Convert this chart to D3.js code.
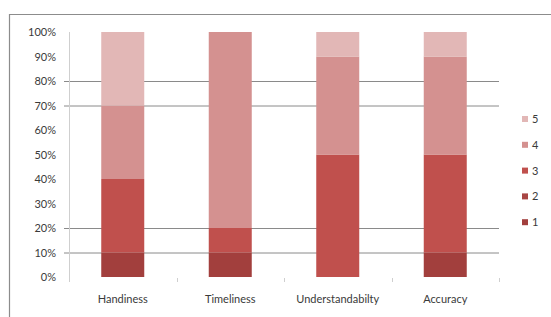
<!DOCTYPE html>
<html>
<head>
<meta charset="utf-8">
<script src="https://cdn.jsdelivr.net/npm/d3@7"></script>
<style>
  body { margin: 0; background: #fff; }
  text { font-family: Lato, "Open Sans", sans-serif; fill: #3a3a3a; }
</style>
</head>
<body>
<div id="chart"></div>
<script>
// data (percent per rating level)
var categories = ["Handiness", "Timeliness", "Understandabilty", "Accuracy"];
var levels = ["1", "2", "3", "4", "5"];
var level1 = [10, 10, 0, 10];
var level2 = [0, 0, 0, 0];
var level3 = [30, 10, 50, 40];
var level4 = [30, 80, 40, 40];
var level5 = [30, 0, 10, 10];
var yTicks = [0, 10, 20, 30, 40, 50, 60, 70, 80, 90, 100];
var gridTicks = [10, 20, 70, 80];

var colors = ["#a23f3d", "#a84644", "#c0504d", "#d49190", "#e2b7b6"];

var W = 551, H = 317;
var margin = { left: 69, right: 52, top: 32, bottom: 40 };
var width = W - margin.left - margin.right,
    height = H - margin.top - margin.bottom;

var svg = d3.select("#chart").append("svg")
    .attr("width", W)
    .attr("height", H);

// outer chart frame (cropped at right and bottom)
svg.append("path")
    .attr("d", "M9.5," + (H + 2) + "V14.5H" + (W + 2))
    .attr("fill", "none")
    .attr("stroke", "#8c8c8c")
    .attr("stroke-width", 1.2);

var g = svg.append("g")
    .attr("transform", "translate(" + margin.left + "," + margin.top + ")");

var rows = categories.map(function(c, i) {
    return { cat: c, "1": level1[i], "2": level2[i], "3": level3[i], "4": level4[i], "5": level5[i] };
});
var stacked = d3.stack().keys(levels)(rows);

var x = d3.scaleBand()
    .domain(categories)
    .range([0, width])
    .paddingInner(0.6)
    .paddingOuter(0.3);
var y = d3.scaleLinear()
    .domain([0, 100])
    .range([height, 0]);

// gridlines
g.append("g")
    .attr("class", "grid")
    .attr("transform", "translate(-5,0)")
    .call(d3.axisLeft(y).tickValues(gridTicks).tickSize(-width - 5).tickFormat(""))
    .call(function(s) {
        s.select(".domain").remove();
        s.selectAll("line").attr("stroke", "#8a8a8a");
    });

// y axis
var yAxis = g.append("g")
    .call(d3.axisLeft(y).tickValues(yTicks).tickSize(0).tickPadding(13)
        .tickFormat(function(d) { return d + "%"; }));
yAxis.select(".domain").remove();
yAxis.selectAll("text").attr("font-size", "11px").attr("fill", "#3a3a3a")
    .style("font-family", "Lato, sans-serif");
g.append("line")
    .attr("x1", 0.5).attr("x2", 0.5)
    .attr("y1", 0).attr("y2", height + 5)
    .attr("stroke", "#cfcfcf");

// bars
g.selectAll(".layer")
    .data(stacked)
    .enter().append("g")
    .attr("class", "layer")
    .attr("fill", function(d, i) { return colors[i]; })
    .selectAll("rect")
    .data(function(d) { return d; })
    .enter().append("rect")
    .attr("x", function(d) { return x(d.data.cat); })
    .attr("width", x.bandwidth())
    .attr("y", function(d) { return y(d[1]); })
    .attr("height", function(d) { return y(d[0]) - y(d[1]); });

// x axis ticks between categories
var step = x.step();
var xAxis = g.append("g")
    .attr("transform", "translate(0," + height + ")")
    .call(d3.axisBottom(x).tickSize(0).tickPadding(18));
xAxis.select(".domain").remove();
xAxis.selectAll("text").attr("font-size", "11px").attr("fill", "#3a3a3a")
    .style("font-family", "Lato, sans-serif");
g.selectAll(".xtick")
    .data(d3.range(1, categories.length + 1))
    .enter().append("line")
    .attr("class", "xtick")
    .attr("x1", function(i) { return Math.round(i * step) + 0.5; })
    .attr("x2", function(i) { return Math.round(i * step) + 0.5; })
    .attr("y1", height + 1).attr("y2", height + 5)
    .attr("stroke", "#cfcfcf");

// legend
var legend = svg.append("g")
    .attr("transform", "translate(522,116)");
levels.slice().reverse().forEach(function(lv, i) {
    var row = legend.append("g")
        .attr("transform", "translate(0," + (i * 25.8) + ")");
    row.append("rect")
        .attr("width", 6)
        .attr("height", 6)
        .attr("fill", colors[levels.indexOf(lv)]);
    row.append("text")
        .attr("x", 10)
        .attr("y", 7)
        .attr("font-size", "11px")
        .text(lv);
});
</script>
</body>
</html>
